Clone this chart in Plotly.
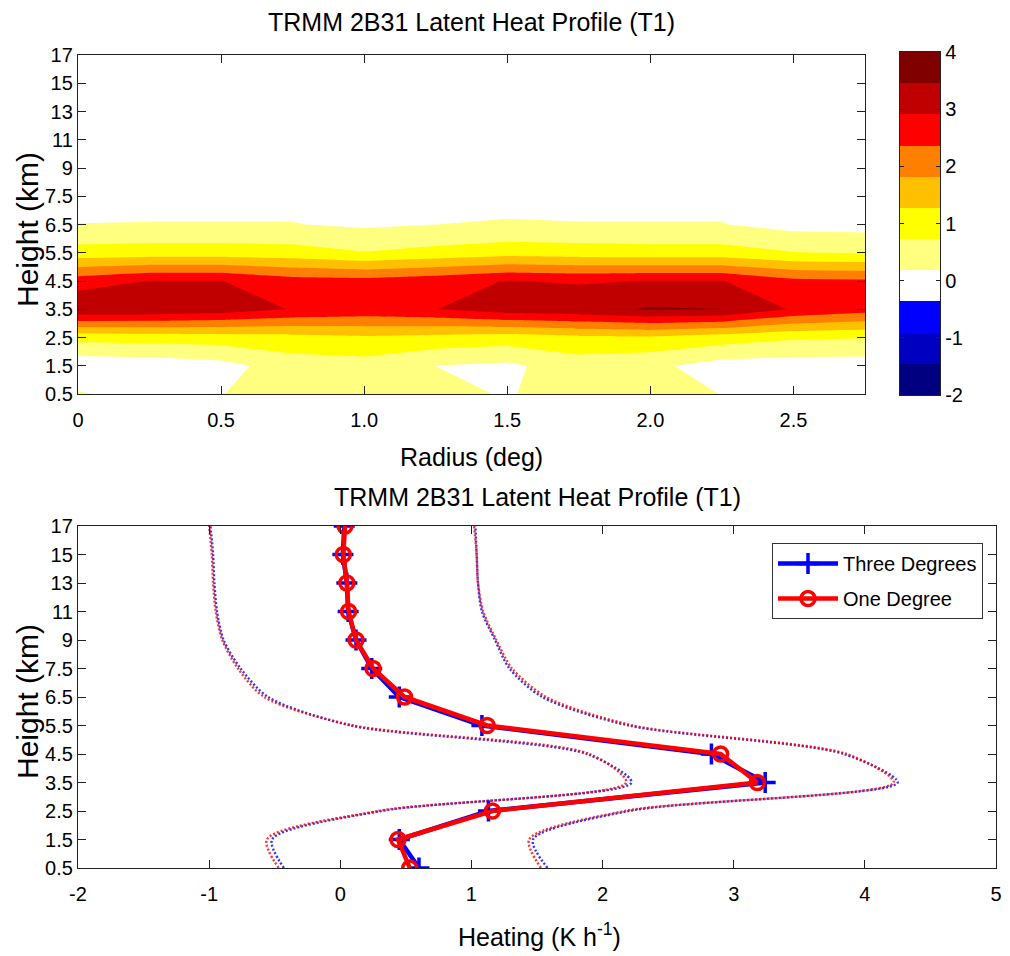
import plotly.graph_objects as go

# ---------------- data ----------------
heights = ["0.5", "1.5", "2.5", "3.5", "4.5", "5.5", "6.5", "7.5", "9", "11", "13", "15", "17"]
radius = [0.0, 0.25, 0.5, 0.75, 1.0, 1.25, 1.5, 1.75, 2.0, 2.25, 2.5, 2.75]

# latent heating (K/h) by height level (rows) and radius (columns)
lh_05 = [0.22, 0.05, 0.17, 0.40, 0.45, 0.30, 0.15, 0.38, 0.40, 0.17, 0.00, -0.05]
lh_15 = [-0.20, -0.15, 0.00, 0.45, 0.50, 0.18, 0.08, 0.45, 0.30, -0.05, -0.10, -0.10]
lh_25 = [0.90, 0.95, 1.00, 1.10, 1.20, 1.10, 1.00, 1.15, 1.20, 1.00, 0.80, 0.75]
lh_35 = [3.40, 3.35, 3.20, 2.88, 2.75, 2.90, 3.20, 3.30, 3.50, 3.46, 2.85, 2.60]
lh_45 = [2.65, 2.92, 2.92, 2.60, 2.55, 2.70, 2.93, 2.85, 2.93, 2.93, 2.50, 2.45]
lh_55 = [0.95, 1.00, 1.00, 0.95, 0.75, 0.90, 1.05, 1.00, 0.95, 0.95, 0.75, 0.70]
lh_65 = [0.19, 0.20, 0.20, 0.20, 0.10, 0.18, 0.22, 0.20, 0.20, 0.20, 0.00, -0.02]
lh_75 = [0.02, 0.02, 0.02, 0.02, 0.01, 0.02, 0.03, 0.02, 0.02, 0.02, 0.00, 0.00]
lh_9 = [0.01, 0.01, 0.01, 0.01, 0.01, 0.01, 0.01, 0.01, 0.01, 0.01, 0.00, 0.00]
lh_11 = [0.01, 0.01, 0.01, 0.01, 0.01, 0.01, 0.01, 0.01, 0.01, 0.01, 0.00, 0.00]
lh_13 = [0.01, 0.01, 0.01, 0.01, 0.01, 0.01, 0.01, 0.01, 0.01, 0.01, 0.00, 0.00]
lh_15k = [0.01, 0.01, 0.01, 0.01, 0.01, 0.01, 0.01, 0.01, 0.01, 0.01, 0.00, 0.00]
lh_17 = [0.01, 0.01, 0.01, 0.01, 0.01, 0.01, 0.01, 0.01, 0.01, 0.01, 0.00, 0.00]

# mean profiles (K/h)
three_deg = [0.60, 0.45, 1.13, 3.24, 2.83, 1.08, 0.45, 0.24, 0.12, 0.06, 0.05, 0.02, 0.03]
one_deg = [0.53, 0.44, 1.16, 3.18, 2.90, 1.12, 0.49, 0.25, 0.12, 0.063, 0.05, 0.023, 0.036]
# mean -/+ one standard deviation
three_lo = [-0.43, -0.52, 0.31, 2.22, 1.88, 0.08, -0.55, -0.76, -0.89, -0.94, -0.96, -0.97, -0.99]
three_hi = [1.58, 1.47, 2.20, 4.25, 3.84, 2.20, 1.54, 1.29, 1.18, 1.08, 1.05, 1.04, 1.03]
one_lo = [-0.47, -0.56, 0.29, 2.18, 1.90, 0.10, -0.58, -0.78, -0.90, -0.95, -0.97, -0.98, -1.00]
one_hi = [1.53, 1.44, 2.17, 4.22, 3.86, 2.23, 1.57, 1.31, 1.19, 1.09, 1.05, 1.04, 1.02]

radius_ticks = [0, 0.5, 1.0, 1.5, 2.0, 2.5]
radius_ticktext = ["0", "0.5", "1.0", "1.5", "2.0", "2.5"]
heating_ticks = [-2, -1, 0, 1, 2, 3, 4, 5]
cbar_ticks = [-2, -1, 0, 1, 2, 3, 4]
band_colors = ["#000080", "#0000C0", "#0000FF", "#FFFFFF", "#FFFF80", "#FFFF00",
               "#FFC000", "#FF8000", "#FF0000", "#C00000", "#800000"]

# ---------------- figure ----------------
W, H = 1002, 948          # page body adds an 8px margin round the figure
OX, OY = 8, 8
FONT = "Liberation Sans, Arial, Helvetica, sans-serif"
idx = list(range(len(heights)))
z = [lh_05, lh_15, lh_25, lh_35, lh_45, lh_55, lh_65, lh_75, lh_9, lh_11, lh_13, lh_15k, lh_17]

zlo, zhi = -2.0, 4.0
nb = len(band_colors)
step = (zhi - zlo) / nb
n = nb - 1

# colorscale for contour fill (band k evaluated at fraction k/n)
cscale = []
for k, c in enumerate(band_colors):
    cscale.append([max(0.0, (k - 0.5) / n), c])
    cscale.append([min(1.0, (k + 0.5) / n), c])

# colorscale for the colour-bar strip (linear over [zlo, zhi])
bar_scale = []
for k, c in enumerate(band_colors):
    bar_scale.append([k / nb, c])
    bar_scale.append([(k + 1) / nb, c])
band_mids = [zlo + (k + 0.5) * step for k in range(nb)]


def px(x):
    return (x - OX) / W


def py(y):
    return 1 - (y - OY) / H


def hy(v):
    return str(v).replace("\u2212", "-")


fig = go.Figure()

fig.add_trace(go.Contour(
    x=radius, y=idx, z=z,
    colorscale=cscale,
    contours=dict(start=zlo + step, end=zhi - step, size=step, coloring="fill", showlines=False),
    line=dict(width=0, smoothing=0),
    showscale=False,
    hoverinfo="skip",
    xaxis="x", yaxis="y",
))

# colour bar drawn as a one-column heatmap
fig.add_trace(go.Heatmap(
    z=[[m] for m in band_mids], x=[0.5], y=band_mids,
    colorscale=bar_scale, zmin=zlo, zmax=zhi, showscale=False,
    hoverinfo="skip", xaxis="x3", yaxis="y3",
))

dot = "2px,2px"
for xs, col in [(three_lo, "blue"), (one_lo, "red"), (three_hi, "blue"), (one_hi, "red")]:
    fig.add_trace(go.Scatter(
        x=xs, y=idx, mode="lines",
        line=dict(color=col, width=2.4, dash=dot, shape="spline", smoothing=0.8),
        opacity=0.8, showlegend=False, hoverinfo="skip",
        xaxis="x2", yaxis="y2",
    ))

fig.add_trace(go.Scatter(
    x=three_deg, y=idx, mode="lines+markers", name="Three Degrees",
    legendgroup="a",
    line=dict(color="blue", width=4.5),
    marker=dict(symbol="cross-thin", size=15, line=dict(color="blue", width=3.5), color="blue"),
    xaxis="x2", yaxis="y2",
))
fig.add_trace(go.Scatter(
    x=one_deg, y=idx, mode="lines+markers", name="One Degree",
    legendgroup="b",
    line=dict(color="red", width=4.5),
    marker=dict(symbol="circle-open", size=14, line=dict(color="red", width=3.5), color="red"),
    xaxis="x2", yaxis="y2",
))

axis_common = dict(
    showline=True, mirror="ticks", linecolor="#222", linewidth=1.3,
    ticks="inside", ticklen=8, tickcolor="#222", tickwidth=1,
    showgrid=False, zeroline=False, automargin=False,
    tickfont=dict(family=FONT, size=20, color="black"),
)

fig.update_layout(
    width=W, height=H,
    margin=dict(l=0, r=0, t=0, b=0, autoexpand=False),
    paper_bgcolor="white", plot_bgcolor="white",
    font=dict(family=FONT, color="black"),
    xaxis=dict(domain=[px(78), px(865)], anchor="y", range=[0, 2.75],
               tickmode="array", tickvals=radius_ticks, ticktext=radius_ticktext,
               ticklabelstandoff=8, **axis_common),
    yaxis=dict(domain=[py(394), py(55)], anchor="x", range=[0, len(heights) - 1],
               tickmode="array", tickvals=idx, ticktext=heights, **axis_common),
    xaxis2=dict(domain=[px(78), px(996)], anchor="y2", range=[-2, 5],
                tickmode="array", tickvals=heating_ticks,
                ticktext=[hy(v) for v in heating_ticks], ticklabelstandoff=8, **axis_common),
    yaxis2=dict(domain=[py(868), py(526)], anchor="x2", range=[0, len(heights) - 1],
                tickmode="array", tickvals=idx, ticktext=heights, **axis_common),
    xaxis3=dict(domain=[px(900), px(940)], anchor="y3", range=[0, 1],
                showline=True, mirror=True, linecolor="#222", linewidth=1.3,
                ticks="", showticklabels=False, showgrid=False, zeroline=False,
                automargin=False, fixedrange=True),
    yaxis3=dict(domain=[py(395), py(52)], anchor="x3", range=[zlo, zhi], side="right",
                showline=True, mirror="ticks", linecolor="#222", linewidth=1.3,
                ticks="inside", ticklen=4, tickcolor="#222",
                tickmode="array", tickvals=cbar_ticks, ticktext=[hy(v) for v in cbar_ticks],
                showgrid=False, zeroline=False, automargin=False,
                tickfont=dict(family=FONT, size=20, color="black")),
    showlegend=True,
    legend=dict(
        x=px(772), y=py(543), xanchor="left", yanchor="top",
        bordercolor="#333", borderwidth=1, bgcolor="white",
        font=dict(family=FONT, size=20, color="black"),
        itemwidth=60, tracegroupgap=6,
    ),
)

ann = [
    ("TRMM 2B31 Latent Heat Profile (T1)", 471, 22, 25, 0),
    ("Radius (deg)", 471, 457, 25, 0),
    ("Height (km)", 27, 230, 30, -90),
    ("TRMM 2B31 Latent Heat Profile (T1)", 537, 497, 25, 0),
    ("Height (km)", 27, 702, 30, -90),
    ("Heating (K h<sup>-1</sup>)", 539, 935, 25, 0),
]
for text, x, y, size, ang in ann:
    fig.add_annotation(text=text, x=px(x), y=py(y), xref="paper", yref="paper",
                       xanchor="center", yanchor="middle", showarrow=False, textangle=ang,
                       font=dict(family=FONT, size=size, color="black"))

fig.write_html("out.html")
